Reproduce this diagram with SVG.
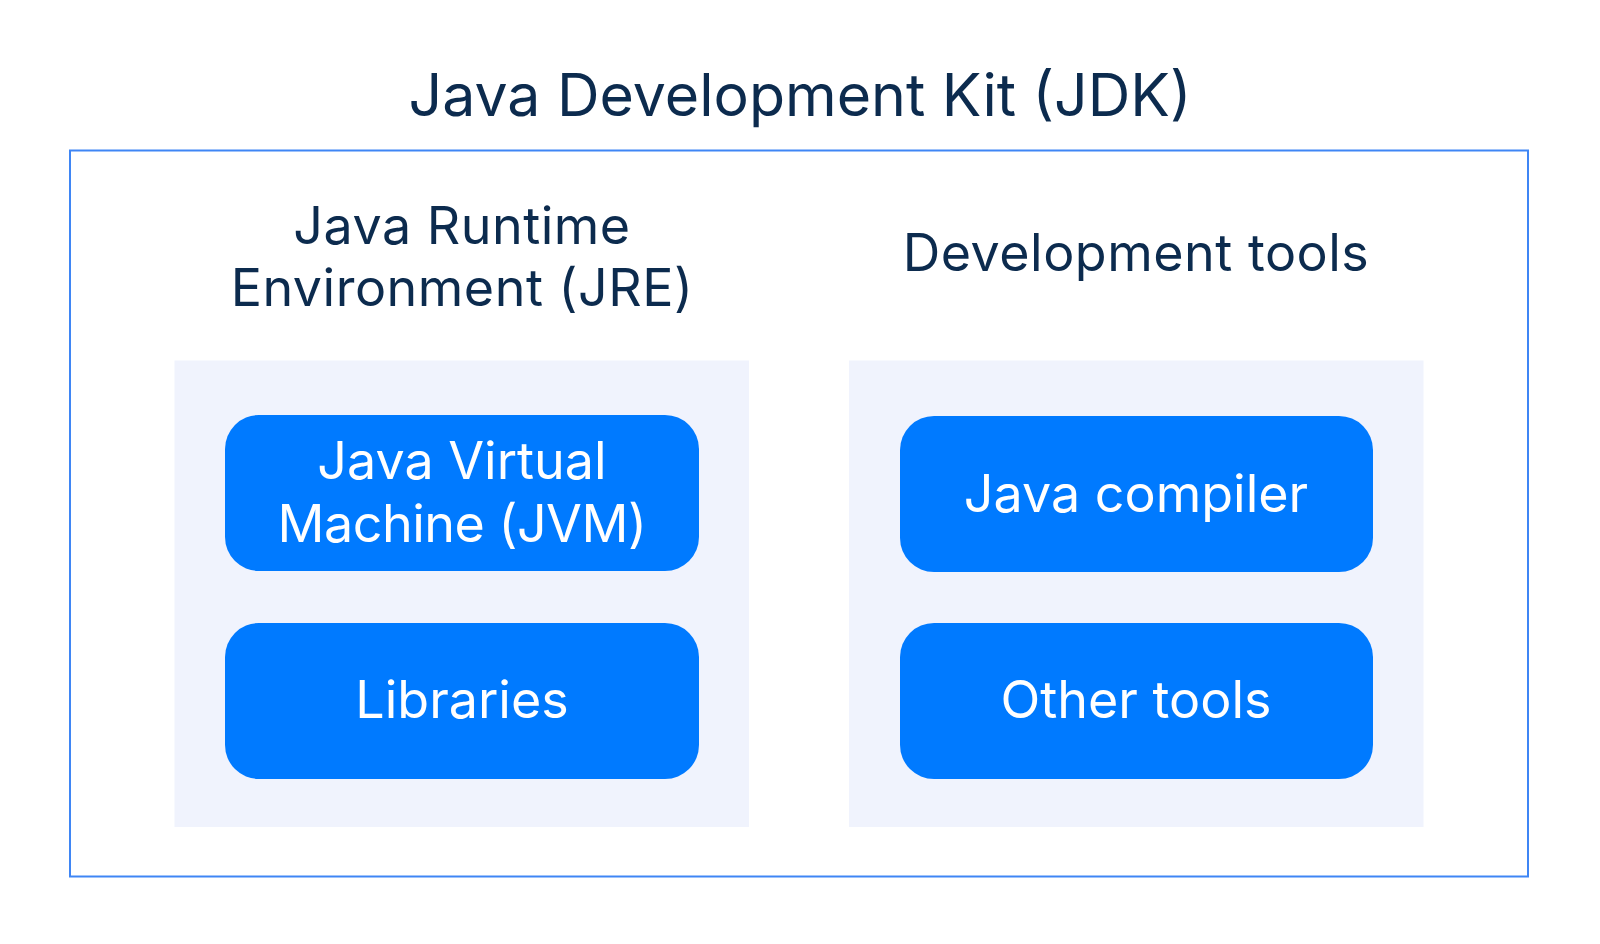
<svg xmlns="http://www.w3.org/2000/svg" width="1600" height="944" viewBox="0 0 1600 944">
<style>
.t{font-family:Inter,"Noto Sans","Liberation Sans",sans-serif;text-anchor:middle}
.h{fill:#0c2b4e}
.s{letter-spacing:0.5px}
.w{fill:#ffffff}
.panel{fill:#f0f3fd}
.box{fill:#007aff}
</style>
<rect width="1600" height="944" fill="#ffffff"/>
<g id="jdk">
<rect x="70" y="150.5" width="1458" height="726" fill="none" stroke="#3f86f5" stroke-width="2"/>
<text class="t h" x="800" y="116" font-size="59">Java Development Kit (JDK)</text>
</g>
<g id="jre">
<rect class="panel" x="174.5" y="360.5" width="574.5" height="466.5"/>
<text class="t h s" x="462" y="244" font-size="52">Java Runtime</text>
<text class="t h s" x="462" y="306" font-size="52">Environment (JRE)</text>
</g>
<g id="devtools">
<rect class="panel" x="849" y="360.5" width="574.5" height="466.5"/>
<text class="t h s" x="1136" y="271" font-size="52">Development tools</text>
</g>
<g id="jvm">
<rect class="box" x="225" y="415" width="474" height="156" rx="34"/>
<text class="t w" x="462" y="479" font-size="52">Java Virtual</text>
<text class="t w" x="462" y="541.5" font-size="52" letter-spacing="-0.5">Machine (JVM)</text>
</g>
<g id="libraries">
<rect class="box" x="225" y="623" width="474" height="156" rx="34"/>
<text class="t w" x="462" y="718" font-size="52">Libraries</text>
</g>
<g id="compiler">
<rect class="box" x="900" y="416" width="473" height="156" rx="34"/>
<text class="t w" x="1136" y="511.5" font-size="52">Java compiler</text>
</g>
<g id="othertools">
<rect class="box" x="900" y="623" width="473" height="156" rx="34"/>
<text class="t w" x="1136" y="718" font-size="52">Other tools</text>
</g>
<g id="connectors"></g>
</svg>
